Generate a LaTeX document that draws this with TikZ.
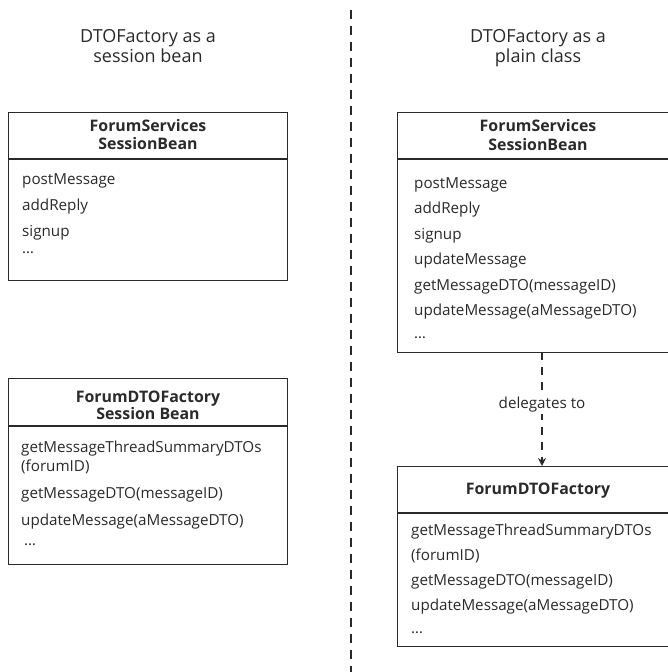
\documentclass[tikz,border=0pt]{standalone}
\usepackage{fontspec}
\setmainfont{Open Sans}
\usetikzlibrary{arrows.meta}
\definecolor{ink}{HTML}{2A2A2A}
\tikzset{
  box/.style={draw=ink, line width=1.3bp, inner sep=0pt, anchor=north west},
  sep/.style={draw=ink, line width=1.3bp},
  row/.style={anchor=base west, inner sep=0pt, text=ink, font=\fontsize{15.2bp}{18bp}\selectfont},
  head/.style={anchor=base, inner sep=0pt, text=ink, font=\fontsize{15.9bp}{18bp}\selectfont\bfseries},
  title/.style={anchor=base, inner sep=0pt, text=ink, font=\fontsize{18bp}{21bp}\selectfont},
  divider/.style={draw=ink, line width=1.2bp, dash pattern=on 9bp off 7bp},
  deleg/.style={draw=ink, line width=1.2bp, dash pattern=on 8bp off 7bp, -{Stealth[length=8bp,width=8bp]}},
}
\begin{document}
\begin{tikzpicture}[x=1bp,y=-1bp]
\useasboundingbox (0,0) rectangle (668,672);
\fill[white] (0,0) rectangle (668,672);

% divider
\coordinate (dtop) at (351,10);
\coordinate (dbot) at (351,672);
\draw[divider] (dtop) -- (dbot);

% titles
\node[title] (t1a) at (148,43) {DTOFactory as a};
\node[title] (t1b) at (148,63) {session bean};
\node[title] (t2a) at (538,43) {DTOFactory as a};
\node[title] (t2b) at (538,63) {plain class};

% left box 1
\node[box, minimum width=279bp, minimum height=168bp] (lb1) at (8,112) {};
\draw[sep] (8,159) -- (287,159);
\node[head] (lb1h1) at (148,132) {ForumServices};
\node[head] (lb1h2) at (148,149) {SessionBean};
\node[row] (lb1r1) at (22,184) {postMessage};
\node[row] (lb1r2) at (22,210) {addReply};
\node[row] (lb1r3) at (22,236) {signup};
\node[row] (lb1r4) at (22,253) {\dots};

% left box 2
\node[box, minimum width=279bp, minimum height=186bp] (lb2) at (8,378) {};
\draw[sep] (8,426) -- (287,426);
\node[head] (lb2h1) at (148,402) {ForumDTOFactory};
\node[head] (lb2h2) at (148,419) {Session Bean};
\node[row] (lb2r1) at (21,452) {getMessageThreadSummaryDTOs};
\node[row] (lb2r2) at (21,471) {(forumID)};
\node[row] (lb2r3) at (21,498) {getMessageDTO(messageID)};
\node[row] (lb2r4) at (21,525) {updateMessage(aMessageDTO)};
\node[row] (lb2r5) at (24,545) {\dots};

% right box 1
\node[box, minimum width=271bp, minimum height=240bp] (rb1) at (397,112) {};
\draw[sep] (397,159) -- (668,159);
\node[head] (rb1h1) at (538,132) {ForumServices};
\node[head] (rb1h2) at (538,150) {SessionBean};
\node[row] (rb1r1) at (414,188) {postMessage};
\node[row] (rb1r2) at (414,213.5) {addReply};
\node[row] (rb1r3) at (414,239) {signup};
\node[row] (rb1r4) at (414,264.5) {updateMessage};
\node[row] (rb1r5) at (414,290) {getMessageDTO(messageID)};
\node[row] (rb1r6) at (414,315.5) {updateMessage(aMessageDTO)};
\node[row] (rb1r7) at (414,338) {\dots};

% right box 2
\node[box, minimum width=271bp, minimum height=180bp] (rb2) at (397,466) {};
\draw[sep] (397,513) -- (668,513);
\node[head] (rb2h1) at (538,494) {ForumDTOFactory};
\node[row] (rb2r1) at (411,535) {getMessageThreadSummaryDTOs};
\node[row] (rb2r2) at (411,560) {(forumID)};
\node[row] (rb2r3) at (411,585) {getMessageDTO(messageID)};
\node[row] (rb2r4) at (411,610) {updateMessage(aMessageDTO)};
\node[row] (rb2r5) at (411,633) {\dots};

% delegation
\coordinate (afrom) at (542,352);
\coordinate (ato) at (542,466);
\draw[deleg] (afrom) -- (ato);
\node[anchor=base, fill=white, inner sep=2bp, text=ink, font=\fontsize{15.2bp}{18bp}\selectfont] (dl) at (542,408) {delegates to};
\end{tikzpicture}
\end{document}
